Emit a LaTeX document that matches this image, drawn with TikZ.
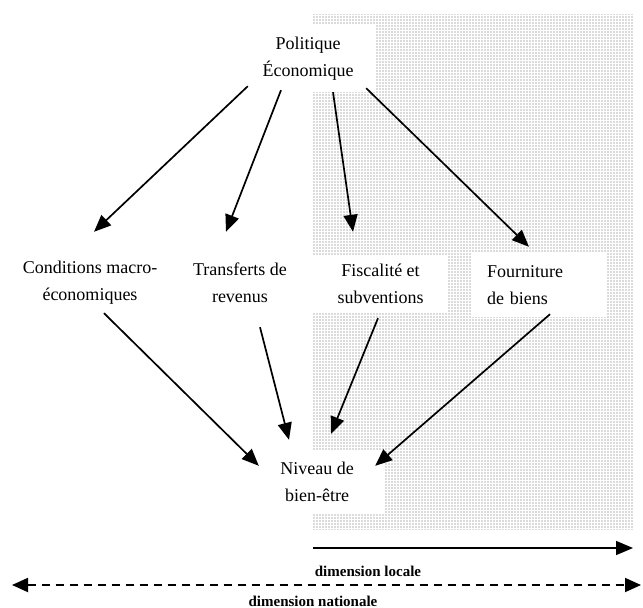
\documentclass[tikz,border=0pt]{standalone}
\usepackage{fontspec}
\setmainfont{Liberation Serif}
\usetikzlibrary{arrows.meta,calc}
\begin{document}
\begin{tikzpicture}[x=1pt,y=-1pt,
  box/.style={fill=white, inner sep=0pt, align=center, font=\fontsize{18}{27}\selectfont},
  arr/.style={line width=1.7pt, -{Triangle[length=17pt,width=14pt]}},
  lab/.style={inner sep=0pt, font=\fontsize{15}{18}\selectfont\bfseries},
]
\useasboundingbox (0,0) rectangle (643,608);
% shaded local area
\fill[gray!28] (313,14) rectangle (633,530);
\draw[white, line width=0.7pt, step=3pt] (313,14) grid (633,530);
% nodes
\node[box, minimum width=136pt, minimum height=67pt] (pol) at (308,58.5) {Politique\\Économique};
\node[box, minimum width=150pt, minimum height=60pt] (cond) at (90,283) {Conditions macro-\\économiques};
\node[box, minimum width=120pt, minimum height=60pt] (trans) at (240,283) {Transferts de\\revenus};
\node[box, minimum width=135pt, minimum height=57pt] (fisc) at (380.5,283.5) {Fiscalité et\\subventions};
\node[box, align=left, text width=105pt, inner xsep=15pt, minimum height=64pt] (four) at (539.5,285) {Fourniture\\de biens};
\node[box, minimum width=136pt, minimum height=63pt] (niv) at (317,481.5) {Niveau de\\bien-être};
% connectors
\draw[arr] ($(pol.south west)+(8,-6)$) -- ($(cond.north)+(4,-21)$);
\draw[arr] ($(pol.south)+(-27,-2)$) -- ($(trans.north)+(-14,-21)$);
\draw[arr] ($(pol.south)+(25,0)$) -- ($(fisc.north)+(-27.5,-23)$);
\draw[arr] ($(pol.south east)+(-10,-4)$) -- ($(four.north)+(-10.5,-6)$);
\draw[arr] ($(cond.south)+(14,0)$) -- ($(niv.north west)+(10,16)$);
\draw[arr] ($(trans.south)+(20,14)$) -- ($(niv.north)+(-28,-10)$);
\draw[arr] ($(fisc.south)+(-2.5,6)$) -- ($(niv.north)+(14,-16)$);
\draw[arr] ($(four.south)+(10.5,-3)$) -- ($(niv.north east)+(-10,16)$);
% dimensions
\coordinate (la) at (313,548);
\coordinate (lb) at (633,548);
\draw[line width=1.7pt, -{Triangle[length=17pt,width=14pt]}] (la) -- (lb);
\node[lab] (loc) at (368,571) {dimension locale};
\coordinate (na) at (12,585);
\coordinate (nb) at (641,585);
\draw[line width=1.8pt, dash pattern=on 8pt off 6pt, {Triangle[length=16pt,width=14pt]}-{Triangle[length=16pt,width=14pt]}] (na) -- (nb);
\node[lab] (nat) at (313,601) {dimension nationale};
\end{tikzpicture}
\end{document}
